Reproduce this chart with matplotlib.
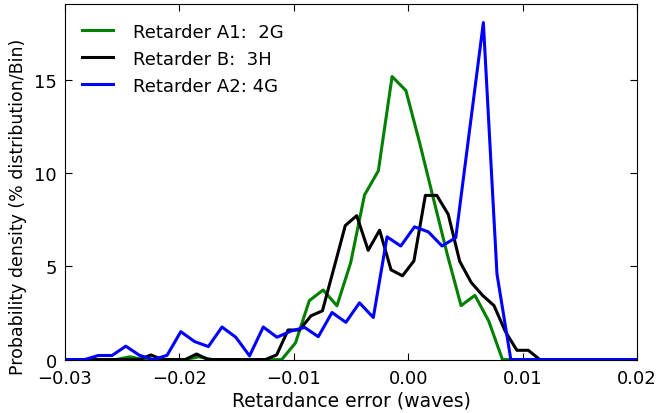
import matplotlib
matplotlib.use("Agg")
import matplotlib.pyplot as plt

# Step 1: Data

a1_x = [-0.0305, -0.02915, -0.02795, -0.02674, -0.02553, -0.02433, -0.02312, -0.02191,
        -0.02071, -0.01950, -0.01830, -0.01709, -0.01588, -0.01468, -0.01347, -0.01226,
        -0.01106, -0.00985, -0.00865, -0.00744, -0.00623, -0.00503, -0.00382, -0.00261,
        -0.00141, -0.00020, 0.00101, 0.00221, 0.00342, 0.00462, 0.00583, 0.00704,
        0.00824, 0.00945, 0.01065, 0.01186, 0.01306, 0.01427, 0.01548, 0.01668,
        0.01789, 0.01909, 0.02030]
a1_y = [0, 0, 0, 0, 0, 0.15, 0, 0,
        0, 0, 0.15, 0, 0, 0, 0, 0,
        0, 0.9, 3.16, 3.74, 2.89, 5.2, 8.84, 10.14,
        15.2, 14.45, 11.62, 8.63, 5.64, 2.9, 3.45, 2.07,
        0, 0, 0, 0, 0, 0, 0, 0,
        0, 0, 0]

b_x = [-0.0305, -0.0295, -0.0285, -0.0275, -0.0265, -0.0255, -0.0245, -0.0235, -0.0225,
       -0.0215, -0.0205, -0.0195, -0.0185, -0.0175, -0.0165, -0.0155, -0.0145,
       -0.0135, -0.0125, -0.0115, -0.0105, -0.0095, -0.0085, -0.0075, -0.0065,
       -0.0055, -0.0045, -0.0035, -0.0025, -0.0015, -0.0005, 0.0005, 0.0015,
       0.0025, 0.0035, 0.0045, 0.0055, 0.0065, 0.0075, 0.0085, 0.0095,
       0.0105, 0.0115, 0.0125, 0.0135, 0.0145, 0.0155, 0.0165, 0.0175,
       0.0185, 0.0195, 0.0205]
b_y = [0, 0, 0, 0, 0, 0, 0, 0, 0.25,
       0, 0, 0, 0.3, 0, 0, 0, 0,
       0, 0, 0.25, 1.59, 1.59, 2.35, 2.62, 4.9,
       7.2, 7.73, 5.87, 6.95, 4.82, 4.5, 5.3, 8.82,
       8.82, 7.8, 5.28, 4.15, 3.45, 2.9, 1.5, 0.5,
       0.5, 0, 0, 0, 0, 0, 0, 0,
       0, 0, 0]

a2_x = [-0.0307, -0.02949, -0.02830, -0.02709, -0.02589, -0.02469, -0.02349, -0.02228,
        -0.02108, -0.01988, -0.01868, -0.01747, -0.01628, -0.01507, -0.01387, -0.01267,
        -0.01147, -0.01026, -0.00906, -0.00786, -0.00666, -0.00545, -0.00426, -0.00305,
        -0.00185, -0.00065, 0.00055, 0.00176, 0.00296, 0.00416, 0.00536, 0.00657,
        0.00776, 0.00897, 0.01017, 0.01137, 0.01258, 0.01378, 0.01498, 0.01618,
        0.01738, 0.01859, 0.01979, 0.02099]
a2_y = [0, 0, 0, 0.22, 0.22, 0.72, 0.23, 0,
        0.23, 1.5, 0.97, 0.7, 1.75, 1.2, 0.2, 1.75,
        1.2, 1.53, 1.73, 1.23, 2.53, 2.0, 3.05, 2.26,
        6.59, 6.1, 7.13, 6.86, 6.1, 6.55, 12.3, 18.1,
        4.6, 0, 0, 0, 0, 0, 0, 0,
        0, 0, 0, 0]

labels = ["Retarder A1:  2G", "Retarder B:  3H", "Retarder A2: 4G"]
x_ticks = [-0.03, -0.02, -0.01, 0.00, 0.01, 0.02]
x_ticklabels = ["\u22120.03", "\u22120.02", "\u22120.01", "0.00", "0.01", "0.02"]
y_ticks = [0, 5, 10, 15]

# Step 2: Plot

fig = plt.figure(figsize=(6.67, 4.14), dpi=100)
ax = fig.add_axes([0.0975, 0.129, 0.8575, 0.859])

ax.plot(a1_x, a1_y, color="#008000", lw=2.2, label=labels[0])
ax.plot(b_x, b_y, color="black", lw=2.2, label=labels[1])
ax.plot(a2_x, a2_y, color="#0000ff", lw=2.2, label=labels[2])

ax.set_xlim(-0.03, 0.02)
ax.set_ylim(0, 19.1)
ax.set_xticks(x_ticks)
ax.set_xticklabels(x_ticklabels)
ax.set_yticks(y_ticks)
ax.tick_params(direction="in", top=True, right=True, length=5, labelsize=13)
ax.tick_params(axis="x", pad=7)
ax.tick_params(axis="y", pad=6)

ax.set_xlabel("Retardance error (waves)", fontsize=13.5, labelpad=2)
ax.set_ylabel("Probability density (% distribution/Bin)", fontsize=12.5)
ax.yaxis.set_label_coords(-0.066, 0.432)

ax.legend(loc="upper left", bbox_to_anchor=(0.0175, 0.968), borderaxespad=0,
          frameon=False, fontsize=13, handlelength=1.7, handletextpad=1.1,
          labelspacing=0.5)

fig.savefig("out.png", dpi=100)
